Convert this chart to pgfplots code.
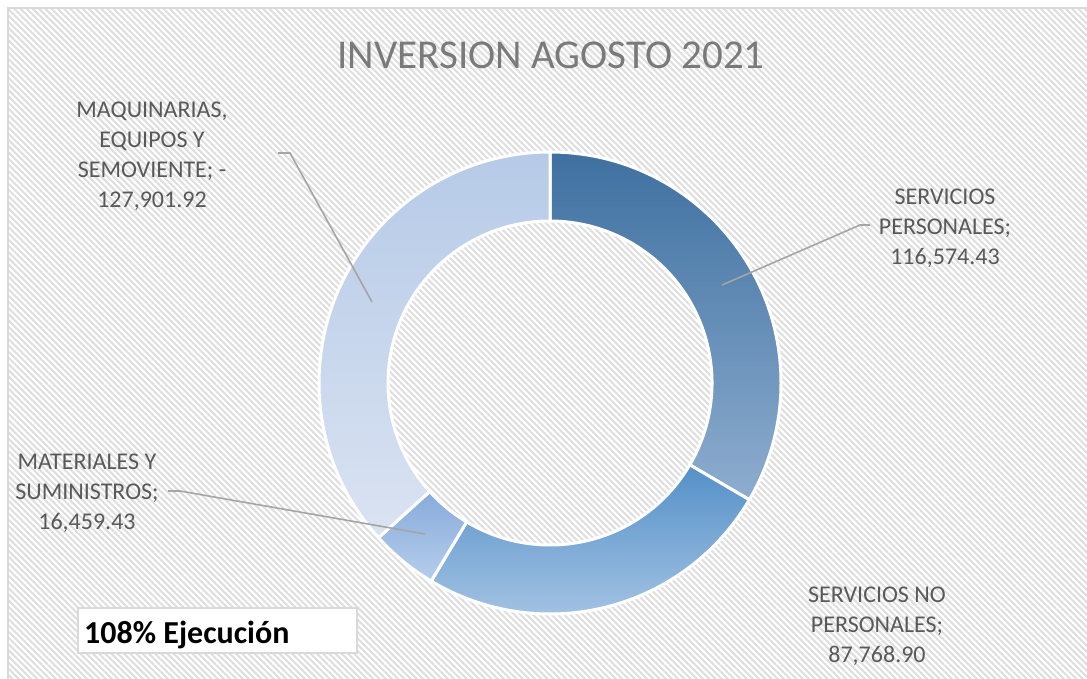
\documentclass[border=0pt]{standalone}
\usepackage{pgfplots}
\pgfplotsset{compat=1.18}
\usepackage{pgfplotstable}
\usetikzlibrary{patterns.meta}
\usepackage{fontspec}
\setmainfont{Carlito}
\definecolor{hatch}{HTML}{DEDEDE}
\definecolor{frame}{HTML}{D9D9D9}
\definecolor{titlec}{HTML}{7A7A7A}
\definecolor{labc}{HTML}{595959}
\definecolor{leader}{HTML}{A5A5A5}
\definecolor{spT}{HTML}{3E70A0}
\definecolor{spB}{HTML}{8EADCF}
\definecolor{snpT}{HTML}{5490C8}
\definecolor{snpB}{HTML}{A2C2E2}
\definecolor{msT}{HTML}{87ABDB}
\definecolor{msB}{HTML}{B6CEEB}
\definecolor{maqT}{HTML}{B6CAE7}
\definecolor{maqB}{HTML}{DAE3F2}

\pgfplotstableread{
label value
SP 116574.43
SNP 87768.90
MS 16459.43
MAQ 127901.92
}\datatable

\begin{document}
\begin{tikzpicture}
\useasboundingbox (0,0) rectangle (1087pt,679pt);
\fill[white] (0,0) rectangle (1087pt,679pt);
\fill[pattern={Lines[angle=-45,distance=4.4pt,line width=2pt]},pattern color=hatch] (9pt,-20pt) rectangle (1110pt,670pt);
\draw[frame,line width=2pt] (8pt,-20pt) rectangle (1110pt,671pt);

\pgfplotstablegetelem{0}{value}\of\datatable\edef\va{\pgfplotsretval}
\pgfplotstablegetelem{1}{value}\of\datatable\edef\vb{\pgfplotsretval}
\pgfplotstablegetelem{2}{value}\of\datatable\edef\vc{\pgfplotsretval}
\pgfplotstablegetelem{3}{value}\of\datatable\edef\vd{\pgfplotsretval}
\edef\tot{\fpeval{\va+\vb+\vc+\vd}}
\edef\aA{90}
\edef\aB{\fpeval{90-360*\va/\tot}}
\edef\aC{\fpeval{\aB-360*\vb/\tot}}
\edef\aD{\fpeval{\aC-360*\vc/\tot}}
\edef\aE{-270}
\def\Ro{231pt}
\def\Ri{162pt}

\begin{axis}[at={(0,0)},anchor=south west,x=1pt,y=1pt,
  xmin=0,xmax=1087,ymin=0,ymax=679,y dir=reverse,
  hide axis,clip=false]
\addplot[draw=none] coordinates {(0,0) (1087,679)};
\coordinate (C) at (axis cs:550,383);
% slices
\path[top color=spT,bottom color=spB,draw=white,line width=3pt]
  ([shift={(\aA:\Ro)}]C) arc[start angle=\aA,end angle=\aB,radius=\Ro]
  -- ([shift={(\aB:\Ri)}]C) arc[start angle=\aB,end angle=\aA,radius=\Ri] -- cycle;
\path[top color=snpT,bottom color=snpB,draw=white,line width=3pt]
  ([shift={(\aB:\Ro)}]C) arc[start angle=\aB,end angle=\aC,radius=\Ro]
  -- ([shift={(\aC:\Ri)}]C) arc[start angle=\aC,end angle=\aB,radius=\Ri] -- cycle;
\path[top color=msT,bottom color=msB,draw=white,line width=3pt]
  ([shift={(\aC:\Ro)}]C) arc[start angle=\aC,end angle=\aD,radius=\Ro]
  -- ([shift={(\aD:\Ri)}]C) arc[start angle=\aD,end angle=\aC,radius=\Ri] -- cycle;
\path[top color=maqT,bottom color=maqB,draw=white,line width=3pt]
  ([shift={(\aD:\Ro)}]C) arc[start angle=\aD,end angle=\aE,radius=\Ro]
  -- ([shift={(\aE:\Ri)}]C) arc[start angle=\aE,end angle=\aD,radius=\Ri] -- cycle;
% leaders
\draw[leader,line width=1.6pt] (axis cs:722,285) -- (axis cs:860,225) -- (axis cs:870,225);
\draw[leader,line width=1.6pt] (axis cs:278,153) -- (axis cs:290,153) -- (axis cs:372,302);
\draw[leader,line width=1.6pt] (axis cs:168,491) -- (axis cs:180,491) -- (axis cs:425,534);
% labels
\node[titlec,font=\fontsize{41}{49}\selectfont,anchor=base] at (axis cs:551,69) {INVERSION AGOSTO 2021};
\begin{scope}[every node/.style={labc,font=\fontsize{24}{30}\selectfont,align=center,anchor=center,inner sep=0pt}]
\node at (axis cs:945,228) {SERVICIOS\\PERSONALES;\\116,574.43};
\node at (axis cs:877,626) {SERVICIOS NO\\PERSONALES;\\87,768.90};
\node at (axis cs:87,493) {MATERIALES Y\\SUMINISTROS;\\16,459.43};
\node at (axis cs:152,156) {MAQUINARIAS,\\EQUIPOS Y\\SEMOVIENTE; -\\127,901.92};
\end{scope}
\draw[frame,fill=white,line width=2pt] (axis cs:78,608) rectangle (axis cs:357,653);
\node[black,anchor=base west,inner sep=0pt,font=\fontsize{32}{36}\selectfont\bfseries] at (axis cs:84,643) {108\% Ejecución};
\end{axis}
\end{tikzpicture}
\end{document}
